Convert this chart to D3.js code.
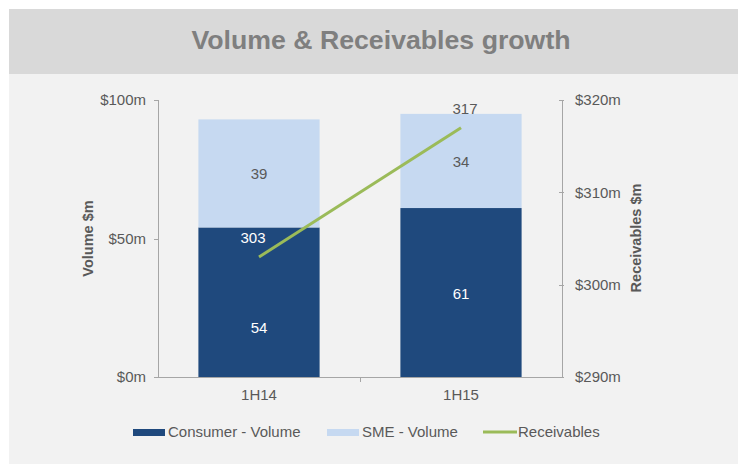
<!DOCTYPE html>
<html lang="en">
<head>
    <meta charset="UTF-8">
    <title>Volume & Receivables growth</title>
    <script src="https://d3js.org/d3.v7.min.js"></script>
    <style>
        body {
            margin: 0;
            background: #ffffff;
            font-family: "Liberation Sans", Arial, sans-serif;
        }
        .axis path,
        .axis line {
            fill: none;
            stroke: #a6a6a6;
            shape-rendering: crispEdges;
        }
        .axis text {
            font-size: 15px;
            fill: #595959;
        }
    </style>
</head>
<body>
<svg id="chart"></svg>

<script>
    const periods = ["1H14", "1H15"];
    const consumerVolume = [54, 61];
    const smeVolume = [39, 34];
    const receivables = [303, 317];
    const volumeTicks = [0, 50, 100];
    const receivableTicks = [290, 300, 310, 320];

    const W = 738, H = 464;
    const plot = { left: 158, right: 562, top: 100, bottom: 377 };

    const svg = d3.select("#chart")
        .attr("width", W)
        .attr("height", H);

    // panel background + title band
    svg.append("rect")
        .attr("x", 9).attr("y", 9)
        .attr("width", W - 9).attr("height", H - 9)
        .attr("fill", "#f2f2f2");

    svg.append("rect")
        .attr("x", 9).attr("y", 9)
        .attr("width", W - 9).attr("height", 65)
        .attr("fill", "#d9d9d9");

    svg.append("text")
        .attr("x", 381)
        .attr("y", 49)
        .attr("text-anchor", "middle")
        .style("font-size", "26.7px")
        .style("font-weight", "bold")
        .style("fill", "#7f7f7f")
        .text("Volume & Receivables growth");

    const x = d3.scaleBand()
        .domain(periods)
        .range([plot.left, plot.right])
        .paddingInner(0.4)
        .paddingOuter(0.2);

    const yVol = d3.scaleLinear()
        .domain([0, 100])
        .range([plot.bottom, plot.top]);

    const yRec = d3.scaleLinear()
        .domain([290, 320])
        .range([plot.bottom, plot.top]);

    // left axis
    svg.append("g")
        .attr("class", "axis")
        .attr("transform", `translate(${plot.left},0)`)
        .call(d3.axisLeft(yVol).tickValues(volumeTicks).tickSize(4).tickPadding(8)
            .tickFormat(d => "$" + d + "m"));

    // right axis (ticks on the left side of the line, labels to the right)
    const rightAxis = svg.append("g")
        .attr("class", "axis")
        .attr("transform", `translate(${plot.right},0)`)
        .call(d3.axisRight(yRec).tickValues(receivableTicks).tickSize(0).tickPadding(13)
            .tickFormat(d => "$" + d + "m"));
    rightAxis.selectAll(".tick line").attr("x1", -3).attr("x2", 2);

    // bottom axis
    const xAxis = svg.append("g")
        .attr("class", "axis")
        .attr("transform", `translate(0,${plot.bottom})`)
        .call(d3.axisBottom(x).tickSize(0).tickPadding(12));
    xAxis.select(".domain").attr("d", `M${plot.left},0H${plot.right}`);
    const midX = (x("1H14") + x.bandwidth() + x("1H15")) / 2;
    xAxis.append("line")
        .attr("x1", midX).attr("x2", midX)
        .attr("y1", 0).attr("y2", 5);

    // stacked bars
    const bars = svg.append("g");
    periods.forEach((p, i) => {
        const cx = x(p) + x.bandwidth() / 2;
        bars.append("rect")
            .attr("x", x(p))
            .attr("y", yVol(consumerVolume[i]))
            .attr("width", x.bandwidth())
            .attr("height", yVol(0) - yVol(consumerVolume[i]))
            .attr("fill", "#1f497d");
        bars.append("rect")
            .attr("x", x(p))
            .attr("y", yVol(consumerVolume[i] + smeVolume[i]))
            .attr("width", x.bandwidth())
            .attr("height", yVol(0) - yVol(smeVolume[i]))
            .attr("fill", "#c6d9f1");

        // first consumer label sits lower to clear the line label
        const labelShift = i === 0 ? 25 : 0;
        bars.append("text")
            .attr("x", cx)
            .attr("y", yVol(consumerVolume[i] / 2) + 6 + labelShift)
            .attr("text-anchor", "middle")
            .style("font-size", "15px")
            .style("fill", "#ffffff")
            .text(consumerVolume[i]);
        bars.append("text")
            .attr("x", cx)
            .attr("y", yVol(consumerVolume[i] + smeVolume[i] / 2) + 6)
            .attr("text-anchor", "middle")
            .style("font-size", "15px")
            .style("fill", "#595959")
            .text(smeVolume[i]);
    });

    // receivables line
    const line = d3.line()
        .x((d, i) => x(periods[i]) + x.bandwidth() / 2)
        .y(d => yRec(d));

    svg.append("path")
        .datum(receivables)
        .attr("d", line)
        .attr("fill", "none")
        .attr("stroke", "#9bbb59")
        .attr("stroke-width", 3);

    svg.selectAll(".rec-label")
        .data(receivables)
        .enter().append("text")
        .attr("class", "rec-label")
        .attr("x", (d, i) => x(periods[i]) + x.bandwidth() / 2 + (i === 0 ? -6 : 4))
        .attr("y", d => yRec(d) - 14)
        .attr("text-anchor", "middle")
        .style("font-size", "15px")
        .style("fill", (d, i) => i === 0 ? "#ffffff" : "#595959")
        .text(d => d);

    // axis titles
    svg.append("text")
        .attr("transform", `translate(93,${(plot.top + plot.bottom) / 2}) rotate(-90)`)
        .attr("text-anchor", "middle")
        .style("font-size", "14.5px")
        .style("font-weight", "bold")
        .style("fill", "#595959")
        .text("Volume $m");

    svg.append("text")
        .attr("transform", `translate(641,238) rotate(-90)`)
        .attr("text-anchor", "middle")
        .style("font-size", "14.5px")
        .style("font-weight", "bold")
        .style("fill", "#595959")
        .text("Receivables $m");

    // legend
    const legend = svg.append("g").attr("transform", "translate(0,432)");
    const legendItems = [
        { label: "Consumer - Volume", x: 133, type: "rect", color: "#1f497d" },
        { label: "SME - Volume", x: 327, type: "rect", color: "#c6d9f1" },
        { label: "Receivables", x: 483, type: "line", color: "#9bbb59" }
    ];
    legendItems.forEach(item => {
        if (item.type === "rect") {
            legend.append("rect")
                .attr("x", item.x).attr("y", -3)
                .attr("width", 32).attr("height", 7)
                .attr("fill", item.color);
        } else {
            legend.append("line")
                .attr("x1", item.x).attr("x2", item.x + 34)
                .attr("y1", 0).attr("y2", 0)
                .attr("stroke", item.color)
                .attr("stroke-width", 3);
        }
        legend.append("text")
            .attr("x", item.x + 35)
            .attr("y", 5)
            .style("font-size", "15px")
            .style("fill", "#595959")
            .text(item.label);
    });
</script>
</body>
</html>
